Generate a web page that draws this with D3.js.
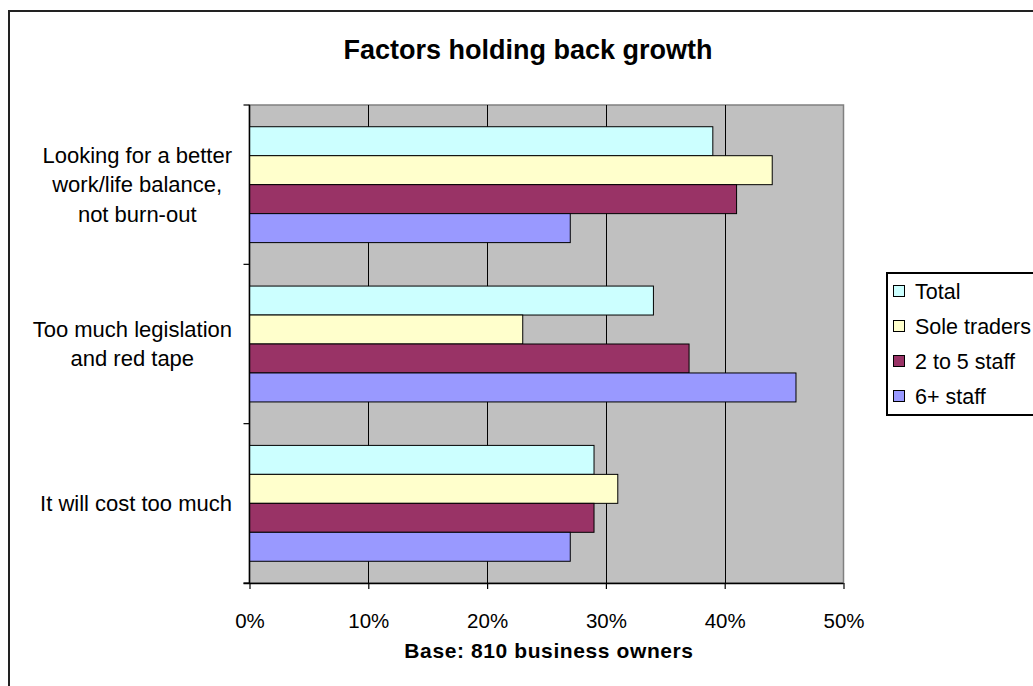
<!DOCTYPE html>
<html>
<head>
<meta charset="utf-8">
<script src="https://cdn.jsdelivr.net/npm/d3@7/dist/d3.min.js"></script>
<style>
  html, body { margin: 0; padding: 0; background: #fff; }
  svg { display: block; font-family: "Liberation Sans", Arial, sans-serif; }
</style>
</head>
<body>
<svg id="chart" width="1033" height="686"></svg>
<script>
// ---- data ----
const categories = [
  ["Looking for a better", "work/life balance,", "not burn-out"],
  ["Too much legislation", "and red tape"],
  ["It will cost too much"]
];
const seriesNames = ["Total", "Sole traders", "2 to 5 staff", "6+ staff"];
const seriesColors = ["#CCFFFF", "#FFFFCC", "#993366", "#9999FF"];
const totalValues   = [0.39, 0.34, 0.29];
const soleValues    = [0.44, 0.23, 0.31];
const twoToFiveValues = [0.41, 0.37, 0.29];
const sixPlusValues = [0.27, 0.46, 0.27];
const xTicks = [0, 0.1, 0.2, 0.3, 0.4, 0.5];
const xTickLabels = ["0%", "10%", "20%", "30%", "40%", "50%"];
const titleText = "Factors holding back growth";
const xAxisTitle = "Base: 810 business owners";

const seriesValues = [totalValues, soleValues, twoToFiveValues, sixPlusValues];

// ---- layout ----
const svg = d3.select("#chart");
const plot = { left: 249.5, right: 843.5, top: 105, bottom: 583 };

// outer chart border
svg.append("rect")
  .attr("x", 9).attr("y", 11).attr("width", 1200).attr("height", 900)
  .attr("fill", "#fff").attr("stroke", "#222").attr("stroke-width", 2);

const x = d3.scaleLinear().domain([0, 0.5]).range([plot.left, plot.right]);
const catIdx = categories.map((d, i) => i);
const y0 = d3.scaleBand().domain(catIdx).range([plot.top, plot.bottom]).padding(0);
const y1 = d3.scaleBand().domain(d3.range(seriesNames.length))
  .range([0, y0.bandwidth()]).paddingInner(0).paddingOuter(0.75);

// plot background
svg.append("rect")
  .attr("x", plot.left).attr("y", plot.top)
  .attr("width", plot.right - plot.left).attr("height", plot.bottom - plot.top)
  .attr("fill", "#C0C0C0").attr("stroke", "#808080").attr("stroke-width", 1.5);

// gridlines
svg.append("g").selectAll("line")
  .data(xTicks.filter(t => t > 0 && t < 0.5))
  .join("line")
  .attr("x1", d => Math.round(x(d)) + 0.5).attr("x2", d => Math.round(x(d)) + 0.5)
  .attr("y1", plot.top).attr("y2", plot.bottom)
  .attr("stroke", "#000").attr("stroke-width", 1);

// bars
const groups = svg.append("g").selectAll("g")
  .data(catIdx).join("g")
  .attr("transform", d => `translate(0,${y0(d)})`);

groups.selectAll("rect")
  .data(ci => seriesValues.map((vals, si) => ({ si, v: vals[ci] })))
  .join("rect")
  .attr("x", plot.left)
  .attr("y", d => y1(d.si))
  .attr("width", d => x(d.v) - plot.left)
  .attr("height", y1.bandwidth())
  .attr("fill", d => seriesColors[d.si])
  .attr("stroke", "#000").attr("stroke-width", 1);

// x axis
const xAxis = d3.axisBottom(x).tickValues(xTicks)
  .tickFormat((d, i) => xTickLabels[i]).tickSize(6).tickPadding(24);
const gx = svg.append("g").attr("transform", `translate(0,${plot.bottom})`).call(xAxis);
gx.select(".domain").attr("stroke", "#000").attr("stroke-width", 1.5)
  .attr("d", `M${plot.left - 6},0.5H${plot.right}`);
gx.selectAll(".tick line").attr("stroke", "#000").attr("stroke-width", 1.2);
gx.selectAll(".tick text").attr("font-size", 20.5).attr("fill", "#000")
  .attr("font-family", "Liberation Sans, Arial, sans-serif");

// y axis line + ticks (category boundaries)
const yAxisG = svg.append("g");
yAxisG.append("line")
  .attr("x1", plot.left).attr("x2", plot.left)
  .attr("y1", plot.top).attr("y2", plot.bottom)
  .attr("stroke", "#000").attr("stroke-width", 1.5);
const boundaries = catIdx.map(i => y0(i)).concat([plot.bottom]);
yAxisG.selectAll("line.tk").data(boundaries).join("line").attr("class", "tk")
  .attr("x1", plot.left - 6).attr("x2", plot.left)
  .attr("y1", d => d).attr("y2", d => d)
  .attr("stroke", "#000").attr("stroke-width", 1.2);

// category labels
const lineH = 29.5;
const labelRight = 232;
const catLabels = svg.append("g").selectAll("text")
  .data(catIdx).join("text")
  .attr("font-size", 22).attr("fill", "#000").attr("text-anchor", "middle");
catLabels.each(function (ci) {
  const lines = categories[ci];
  const t = d3.select(this);
  const cy = y0(ci) + y0.bandwidth() / 2;
  const startY = cy - (lines.length - 1) * lineH / 2 + 7.5;
  lines.forEach((ln, k) => {
    t.append("tspan").attr("x", 0).attr("y", startY + k * lineH).text(ln);
  });
  let maxW = 0;
  t.selectAll("tspan").each(function () { maxW = Math.max(maxW, this.getComputedTextLength()); });
  t.selectAll("tspan").attr("x", labelRight - maxW / 2);
});

// title
svg.append("text")
  .attr("x", 528).attr("y", 59).attr("text-anchor", "middle")
  .attr("font-size", 27).attr("font-weight", "bold").attr("fill", "#000")
  .text(titleText);

// x axis title
svg.append("text")
  .attr("x", 549).attr("y", 658).attr("text-anchor", "middle")
  .attr("font-size", 21).attr("font-weight", "bold").attr("fill", "#000")
  .attr("letter-spacing", 0.6)
  .text(xAxisTitle);

// legend
const legend = svg.append("g");
legend.append("rect")
  .attr("x", 887).attr("y", 273).attr("width", 300).attr("height", 142)
  .attr("fill", "#fff").attr("stroke", "#000").attr("stroke-width", 2);
const items = legend.selectAll("g.item").data(seriesNames).join("g").attr("class", "item")
  .attr("transform", (d, i) => `translate(0,${291 + i * 35})`);
items.append("rect")
  .attr("x", 893.5).attr("y", -5.5).attr("width", 11).attr("height", 11)
  .attr("fill", (d, i) => seriesColors[i]).attr("stroke", "#000").attr("stroke-width", 1);
items.append("text")
  .attr("x", 915).attr("y", 7.5).attr("font-size", 21.5).attr("fill", "#000")
  .text(d => d);
</script>
</body>
</html>
